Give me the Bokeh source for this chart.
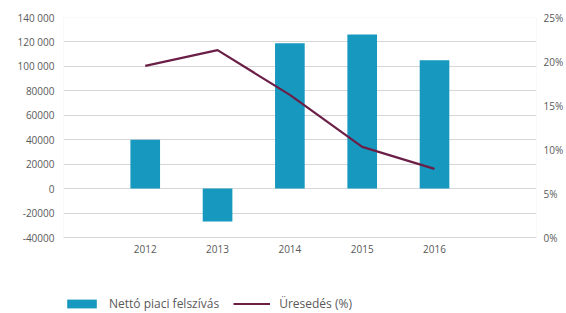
from bokeh.plotting import figure
from bokeh.models import (Range1d, LinearAxis, FixedTicker, PrintfTickFormatter, Legend,
                          LegendItem, ColumnDataSource, BoxAnnotation)
from bokeh.embed import file_html
from bokeh.resources import INLINE

years = [2012, 2013, 2014, 2015, 2016]
absorption = [40000, -27000, 119000, 126000, 105000]
vacancy = [19.5, 21.3, 16.2, 10.3, 7.8]
left_ticks = [-40000, -20000, 0, 20000, 40000, 60000, 80000, 100000, 120000, 140000]
left_labels = ["-40000", "-20000", "0", "20000", "40000", "60000", "80000", "100 000", "120 000", "140 000"]
right_ticks = [0, 5, 10, 15, 20, 25]
bar_name = "Nettó piaci felszívás"
line_name = "Üresedés (%)"

FONT = "Open Sans"
TXT = "#595959"
GRID = "#d6d6d6"

# layout: data area 220px tall, plus space below it for x labels and legend
W, H, TOP, DATA_H = 566, 313, 17, 220
extra = H - TOP - DATA_H
ymin, ymax = left_ticks[0], left_ticks[-1]
pmin, pmax = right_ticks[0], right_ticks[-1]
y_lo = ymin - extra * (ymax - ymin) / DATA_H
p_lo = pmin - extra * (pmax - pmin) / DATA_H
X0, X1 = 2010.87, 2017.41

p = figure(width=W, height=H, output_backend="svg", toolbar_location=None,
           x_range=Range1d(X0, X1), y_range=Range1d(y_lo, ymax),
           min_border_left=63, min_border_right=29, min_border_top=TOP, min_border_bottom=0)
p.extra_y_ranges = {"pct": Range1d(p_lo, pmax)}

src = ColumnDataSource(dict(x=years, y=absorption, v=vacancy))
bars = p.vbar(x="x", top="y", bottom=0, width=0.41, source=src, color="#1799bf", line_color=None)
ln = p.line(x="x", y="v", source=src, y_range_name="pct", line_color="#6b1f47", line_width=2.2)

p.outline_line_color = None
p.add_layout(BoxAnnotation(left=X0, right=X1, top=ymax, bottom=ymin, fill_alpha=0,
                           line_color=GRID, line_width=1))
p.xgrid.grid_line_color = None
p.ygrid.grid_line_color = GRID
p.ygrid.ticker = FixedTicker(ticks=left_ticks)

ya = p.yaxis[0]
ya.ticker = FixedTicker(ticks=left_ticks)
ya.major_label_overrides = {t: l for t, l in zip(left_ticks, left_labels)}

xa = p.xaxis[0]
xa.ticker = FixedTicker(ticks=years)
xa.major_label_overrides = {y: str(y) for y in years}
xa.fixed_location = ymin

ra = LinearAxis(y_range_name="pct", ticker=FixedTicker(ticks=right_ticks),
                formatter=PrintfTickFormatter(format="%d%%"))
p.add_layout(ra, "right")

for ax in [ya, xa, ra]:
    ax.axis_line_color = None
    ax.major_tick_line_color = None
    ax.minor_tick_line_color = None
    ax.major_tick_out = 0
    ax.major_label_text_font = FONT
    ax.major_label_text_font_size = "10px"
    ax.major_label_text_color = TXT
ya.major_label_standoff = 9
ra.major_label_standoff = 7
xa.major_label_standoff = 7

legend = Legend(items=[LegendItem(label=bar_name, renderers=[bars]),
                       LegendItem(label=line_name, renderers=[ln])],
                orientation="horizontal", location=(0, 1),
                glyph_width=37, glyph_height=11, label_standoff=9, spacing=14,
                padding=0, margin=0, border_line_color=None, background_fill_alpha=0,
                label_text_font=FONT, label_text_font_size="12px", label_text_color=TXT,
                label_height=12)
p.add_layout(legend, "center")

open("out.html", "w").write(file_html(p, INLINE))
